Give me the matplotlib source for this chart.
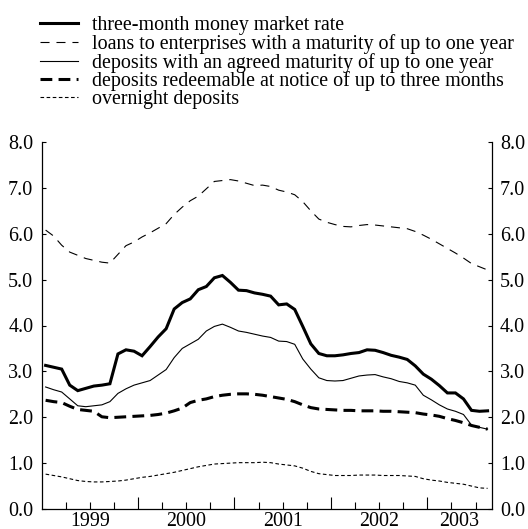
import numpy as np
import matplotlib
matplotlib.use('Agg')
import matplotlib.pyplot as plt
from matplotlib.ticker import FixedLocator, FormatStrFormatter

plt.rcParams['font.family'] = ['Liberation Serif', 'DejaVu Serif']
plt.rcParams['lines.scale_dashes'] = False

# monthly data, Jan 1999 - Aug 2003
money_market = [3.13, 3.09, 3.05, 2.70, 2.58, 2.63, 2.68, 2.70, 2.73, 3.38, 3.47, 3.44,
                3.34, 3.54, 3.75, 3.93, 4.36, 4.50, 4.58, 4.78, 4.85, 5.04, 5.09, 4.94,
                4.77, 4.76, 4.71, 4.68, 4.64, 4.45, 4.47, 4.35, 3.98, 3.60, 3.39, 3.34,
                3.34, 3.36, 3.39, 3.41, 3.47, 3.46, 3.41, 3.35, 3.31, 3.26, 3.12, 2.94,
                2.83, 2.69, 2.53, 2.53, 2.40, 2.15, 2.13, 2.14]
loans = [6.08, 5.95, 5.75, 5.60, 5.53, 5.46, 5.42, 5.38, 5.36, 5.55, 5.74, 5.82,
         5.93, 6.02, 6.12, 6.22, 6.42, 6.58, 6.72, 6.82, 6.98, 7.14, 7.16, 7.18,
         7.15, 7.10, 7.05, 7.06, 7.03, 6.95, 6.91, 6.85, 6.70, 6.50, 6.32, 6.25,
         6.20, 6.16, 6.15, 6.18, 6.20, 6.19, 6.17, 6.15, 6.13, 6.11, 6.05, 5.97,
         5.88, 5.78, 5.68, 5.58, 5.47, 5.35, 5.28, 5.21]
deposits_1y = [2.66, 2.60, 2.55, 2.40, 2.25, 2.23, 2.25, 2.27, 2.34, 2.52, 2.62, 2.70,
               2.75, 2.80, 2.92, 3.04, 3.30, 3.50, 3.60, 3.70, 3.88, 3.98, 4.03, 3.96,
               3.88, 3.85, 3.81, 3.77, 3.74, 3.66, 3.65, 3.59, 3.27, 3.05, 2.86, 2.80,
               2.79, 2.80, 2.85, 2.90, 2.92, 2.93, 2.88, 2.84, 2.78, 2.75, 2.70, 2.48,
               2.38, 2.27, 2.18, 2.13, 2.06, 1.83, 1.78, 1.74]
deposits_notice = [2.37, 2.34, 2.32, 2.24, 2.17, 2.15, 2.13, 2.01, 1.99, 2.00, 2.01, 2.02,
                   2.03, 2.04, 2.06, 2.09, 2.14, 2.20, 2.32, 2.37, 2.40, 2.45, 2.48, 2.50,
                   2.51, 2.51, 2.50, 2.48, 2.45, 2.42, 2.39, 2.34, 2.27, 2.21, 2.18, 2.17,
                   2.16, 2.15, 2.15, 2.14, 2.14, 2.14, 2.13, 2.13, 2.12, 2.11, 2.10, 2.07,
                   2.05, 2.02, 1.97, 1.93, 1.88, 1.82, 1.78, 1.74]
overnight = [0.76, 0.73, 0.70, 0.66, 0.62, 0.60, 0.59, 0.59, 0.60, 0.61, 0.63, 0.66,
             0.69, 0.71, 0.74, 0.77, 0.80, 0.84, 0.88, 0.92, 0.95, 0.98, 0.99, 1.00,
             1.01, 1.01, 1.01, 1.02, 1.01, 0.98, 0.96, 0.94, 0.89, 0.82, 0.77, 0.75,
             0.73, 0.73, 0.73, 0.74, 0.74, 0.74, 0.73, 0.73, 0.73, 0.72, 0.71, 0.66,
             0.63, 0.61, 0.58, 0.56, 0.54, 0.50, 0.46, 0.45]

labels = ['three-month money market rate',
          'loans to enterprises with a maturity of up to one year',
          'deposits with an agreed maturity of up to one year',
          'deposits redeemable at notice of up to three months',
          'overnight deposits']
years = ['1999', '2000', '2001', '2002', '2003']

x = np.arange(len(money_market)) + 0.5

fig = plt.figure(figsize=(5.28, 5.29), dpi=100)
ax = fig.add_axes([41.6 / 528, 1 - 509 / 529, 450 / 528, 367 / 529])

ax.plot(x, money_market, color='black', lw=2.2, solid_joinstyle='miter', label=labels[0])
ax.plot(x, loans, color='black', lw=0.8, ls=(0, (6.5, 5)), label=labels[1])
ax.plot(x, deposits_1y, color='black', lw=0.8, label=labels[2])
ax.plot(x, deposits_notice, color='black', lw=2.2, ls=(0, (8.5, 4.5)), label=labels[3])
ax.plot(x, overnight, color='black', lw=0.8, ls=(0, (2.6, 1.8)), label=labels[4])

ax.set_xlim(0, 56)
ax.set_ylim(0, 8)

ax.spines['top'].set_visible(False)
ax.spines['left'].set_linewidth(0.9)
ax.spines['right'].set_linewidth(0.9)
ax.spines['bottom'].set_linewidth(0.9)

ax.set_yticks(np.arange(0, 8.1, 1.0))
ax.yaxis.set_major_formatter(FormatStrFormatter('%.1f'))
ax.tick_params(axis='y', which='both', direction='in', length=3, width=0.8,
               left=True, right=True, labelleft=True, labelright=True,
               labelsize=14.4, pad=6)

ax.xaxis.set_major_locator(FixedLocator([12, 24, 36, 48]))
ax.xaxis.set_minor_locator(FixedLocator([m for m in range(3, 56, 3) if m % 12]))
ax.tick_params(axis='x', which='major', direction='in', length=9, width=0.8, labelbottom=False)
ax.tick_params(axis='x', which='minor', direction='in', length=5, width=0.8)

# year labels sit in the middle of each year span
year_pos = [6, 18, 30, 42, 52]
for pos, yr in zip(year_pos, years):
    ax.text(pos, -17.5 / 367, yr, transform=ax.get_xaxis_transform(), ha='center',
            va='baseline', fontsize=14.4)

fig.legend(loc='upper left', bbox_to_anchor=(39.5 / 528, 1 - 16 / 529), frameon=False,
           fontsize=14.4, handlelength=1.9, handletextpad=0.7, labelspacing=-0.055,
           borderpad=0, borderaxespad=0)

plt.savefig('out.png', dpi=100)
